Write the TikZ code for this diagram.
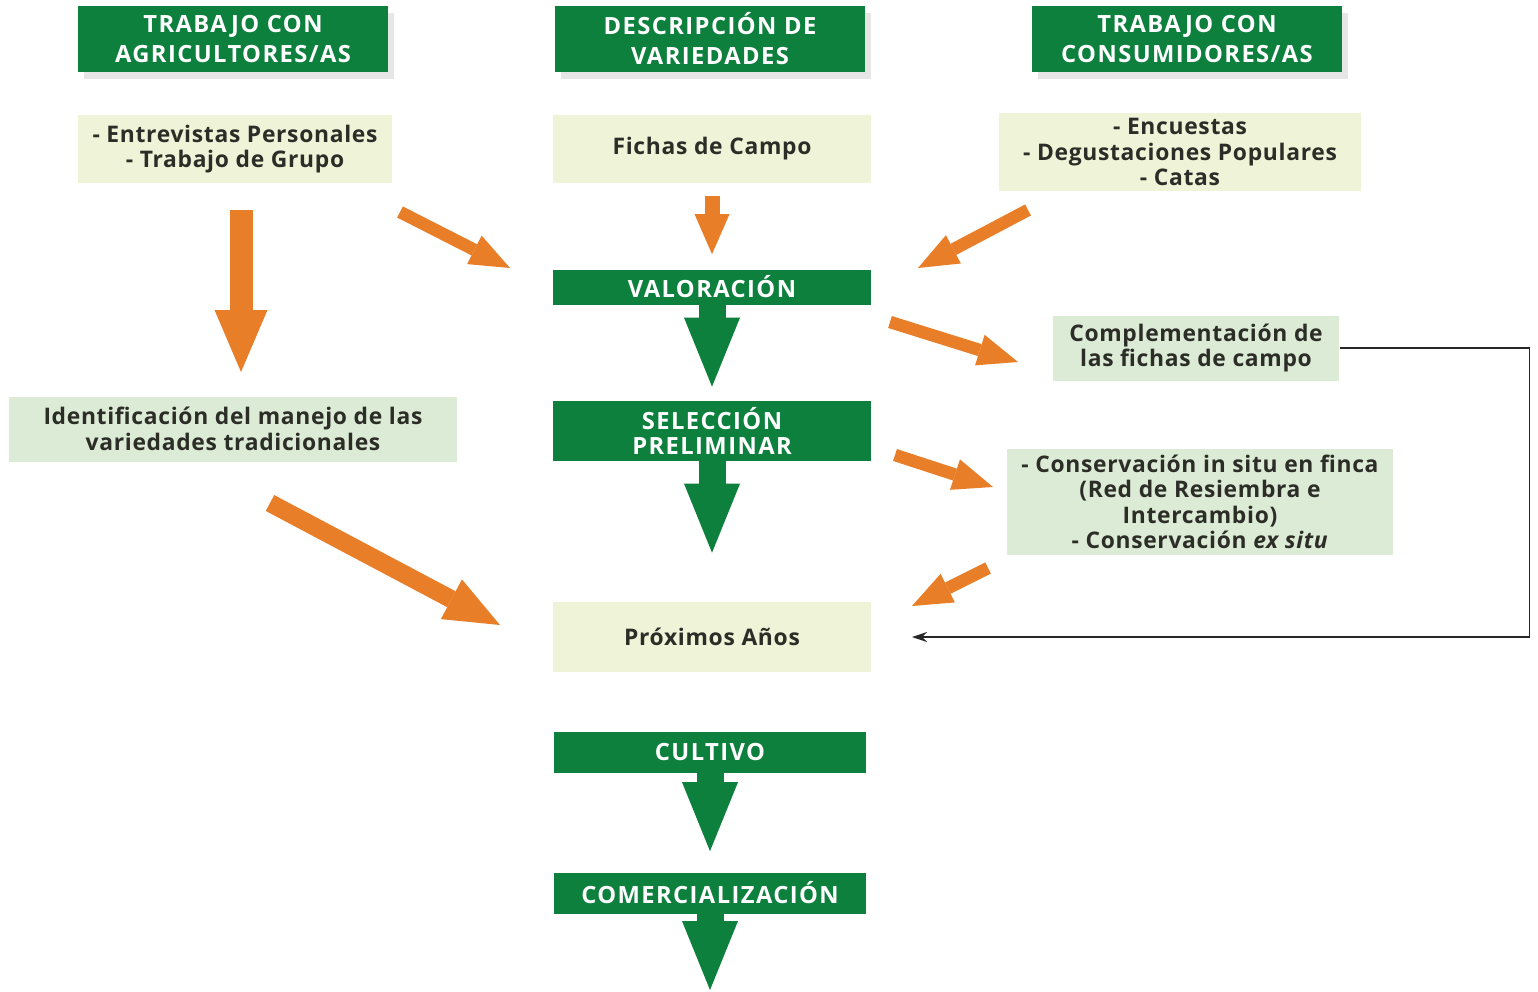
\documentclass[tikz,border=0pt]{standalone}
\usepackage{fontspec}
\setmainfont{Open Sans}[LetterSpace=3]
\usetikzlibrary{arrows.meta,shadows,positioning}
\definecolor{verde}{RGB}{14,128,62}
\definecolor{naranja}{RGB}{233,126,40}
\definecolor{crema}{RGB}{239,243,216}
\definecolor{verdeclaro}{RGB}{219,235,213}
\definecolor{texto}{RGB}{45,45,40}

\begin{document}
\begin{tikzpicture}[x=0.02cm,y=-0.02cm,
	titlebox/.style={fill=verde,text=white,align=center,font=\bfseries\fontsize{13.5}{17}\selectfont\addfontfeatures{LetterSpace=6},minimum width=6.2cm,minimum height=1.34cm,drop shadow={shadow xshift=0.12cm,shadow yshift=-0.14cm,opacity=0.2}},
	bar/.style={fill=verde,text=white,align=center,font=\bfseries\fontsize{13.5}{14.2}\selectfont\addfontfeatures{LetterSpace=6},minimum width=6.36cm},
	infobox/.style={fill=crema,text=texto,align=center,font=\bfseries\fontsize{13}{14.4}\selectfont},
	notebox/.style={fill=verdeclaro,text=texto,align=center,font=\bfseries\fontsize{13}{14.4}\selectfont},
	orangearrow/.style n args={3}{draw=naranja,line width=#1,-{Triangle[length=#2,width=#3,line width=0pt]}},
	greenarrow/.style={draw=verde,line width=0.54cm,-{Triangle[length=1.38cm,width=1.12cm,line width=0pt]}}]
	\useasboundingbox (0,0) rectangle (1538,991);
	% titles
	\node[titlebox] (agri) at (233,39) {TRABAJO CON\\AGRICULTORES/AS};
	\node[titlebox] (desc) at (710,39) {DESCRIPCIÓN DE\\VARIEDADES};
	\node[titlebox] (cons) at (1187,39) {TRABAJO CON\\CONSUMIDORES/AS};
	% methods
	\node[infobox,minimum width=6.3cm,minimum height=1.36cm] (entrev) at (235,149) {- Entrevistas Personales\\- Trabajo de Grupo};
	\node[infobox,minimum width=6.36cm,minimum height=1.36cm] (fichas) at (712,149) {Fichas de Campo};
	\node[infobox,minimum width=7.26cm,minimum height=1.48cm] (encues) at (1180,152) {- Encuestas\\- Degustaciones Populares\\- Catas};
	% central column
	\node[bar,minimum height=0.7cm] (valor) at (712,287) {VALORACIÓN};
	\node[bar,minimum height=1.2cm] (selec) at (712,431) {SELECCIÓN\\PRELIMINAR};
	\node[infobox,minimum width=6.36cm,minimum height=1.4cm] (prox) at (712,637) {Próximos Años};
	\node[bar,minimum width=6.26cm,minimum height=0.82cm] (cultivo) at (710,752) {CULTIVO};
	\node[bar,minimum width=6.26cm,minimum height=0.82cm] (comerc) at (710,893) {COMERCIALIZACIÓN};
	% side notes
	\node[notebox,minimum width=5.74cm,minimum height=1.3cm] (comp) at (1196,348) {Complementación de\\las fichas de campo};
	\node[notebox,minimum width=8.96cm,minimum height=1.3cm] (ident) at (233,429) {Identificación del manejo de las\\variedades tradicionales};
	\node[notebox,minimum width=7.74cm,minimum height=2.08cm] (conserv) at (1200,502) {- Conservación in situ en finca\\(Red de Resiembra e\\Intercambio)\\- Conservación \textit{ex situ}};
	% free ends of the orange arrows
	\coordinate (agriA) at (241,210);
	\coordinate (agriB) at (241,372);
	\coordinate (entrevA) at (400,212);
	\coordinate (entrevB) at (510,268);
	\coordinate (encuesA) at (1028,210);
	\coordinate (encuesB) at (918,268);
	\coordinate (valorA) at (890,322);
	\coordinate (valorB) at (1018,362);
	\coordinate (selecA) at (895,455);
	\coordinate (selecB) at (993,487);
	\coordinate (conservA) at (988,568);
	\coordinate (conservB) at (912,606);
	\coordinate (identA) at (270,503);
	\coordinate (identB) at (500,625);
	\coordinate (retorno) at (912,637);
	\coordinate (fin) at (710,990);
	% orange arrows
	\draw[orangearrow={0.46cm}{1.24cm}{1.06cm}] (agriA) -- (agriB);
	\draw[orangearrow={0.3cm}{0.8cm}{0.7cm},shorten <=0.26cm,shorten >=0.3cm] (fichas.south) -- (valor.north);
	\draw[orangearrow={0.25cm}{0.8cm}{0.64cm}] (entrevA) -- (entrevB);
	\draw[orangearrow={0.25cm}{0.8cm}{0.64cm}] (encuesA) -- (encuesB);
	\draw[orangearrow={0.25cm}{0.8cm}{0.64cm}] (valorA) -- (valorB);
	\draw[orangearrow={0.25cm}{0.8cm}{0.64cm}] (selecA) -- (selecB);
	\draw[orangearrow={0.25cm}{0.8cm}{0.64cm}] (conservA) -- (conservB);
	\draw[orangearrow={0.36cm}{1.1cm}{0.9cm}] (identA) -- (identB);
	% green arrows
	\draw[greenarrow,shorten >=0.28cm] (valor.south) -- (selec.north);
	\draw[greenarrow,shorten >=0.98cm] (selec.south) -- (prox.north);
	\draw[greenarrow,shorten >=0.42cm] (cultivo.south) -- (comerc.north);
	\draw[greenarrow] (comerc.south) -- (fin);
	% feedback line
	\draw[black!85,line width=0.7pt,-{Stealth[length=0.3cm,width=0.2cm]}] (comp.east) -- ++(190,0) |- (retorno);
\end{tikzpicture}
\end{document}
